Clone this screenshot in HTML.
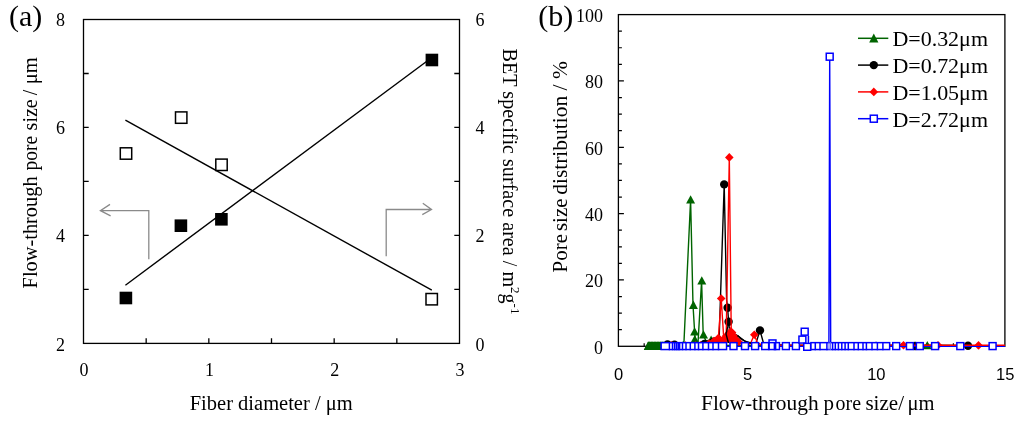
<!DOCTYPE html>
<html><head><meta charset="utf-8"><title>Fiber diameter and pore size distribution</title>
<style>html,body{margin:0;padding:0;background:#fff;width:1024px;height:425px;overflow:hidden}svg{display:block;will-change:transform}</style>
</head><body>
<svg width="1024" height="425" viewBox="0 0 1024 425"><rect x="83.50" y="19.50" width="376.00" height="323.90" fill="none" stroke="#000" stroke-width="1.3"/>
<path d="M83.50 73.48h5.2M459.50 73.48h-5.2M83.50 127.47h5.2M459.50 127.47h-5.2M83.50 181.45h5.2M459.50 181.45h-5.2M83.50 235.43h5.2M459.50 235.43h-5.2M83.50 289.42h5.2M459.50 289.42h-5.2M146.17 343.40v-5.2M208.83 343.40v-5.2M271.50 343.40v-5.2M334.17 343.40v-5.2M396.83 343.40v-5.2" stroke="#000" stroke-width="1.3" fill="none"/>
<path d="M148.8 259.3V210.6H100.6M110 204.4L100.4 210.6L110.6 215.8" stroke="#8a8a8a" stroke-width="1.3" fill="none"/>
<path d="M386.2 256.3V209.5H431.3M422.8 203.2L431.5 209.5L422.3 214.6" stroke="#8a8a8a" stroke-width="1.3" fill="none"/>
<path d="M125.4 285.2L431.9 57.5" stroke="#000" stroke-width="1.4" fill="none"/>
<path d="M125.4 120.2L431.8 290.2" stroke="#000" stroke-width="1.4" fill="none"/>
<rect x="119.60" y="291.70" width="12.60" height="12.60" fill="#000"/>
<rect x="174.60" y="219.40" width="12.60" height="12.60" fill="#000"/>
<rect x="215.10" y="213.00" width="12.60" height="12.60" fill="#000"/>
<rect x="425.60" y="53.70" width="12.60" height="12.60" fill="#000"/>
<rect x="120.30" y="147.80" width="11.40" height="11.40" fill="#fff" stroke="#000" stroke-width="1.5"/>
<rect x="175.50" y="111.90" width="11.40" height="11.40" fill="#fff" stroke="#000" stroke-width="1.5"/>
<rect x="215.80" y="159.10" width="11.40" height="11.40" fill="#fff" stroke="#000" stroke-width="1.5"/>
<rect x="426.00" y="293.50" width="11.40" height="11.40" fill="#fff" stroke="#000" stroke-width="1.5"/>
<g font-family='"Liberation Serif", serif' font-size="18" fill="#000"><text x="65" y="25.70" text-anchor="end">8</text><text x="65" y="134.00" text-anchor="end">6</text><text x="65" y="242.30" text-anchor="end">4</text><text x="65" y="350.60" text-anchor="end">2</text><text x="475.4" y="25.70">6</text><text x="475.4" y="133.97">4</text><text x="475.4" y="242.23">2</text><text x="475.4" y="350.50">0</text><text x="84.10" y="376" text-anchor="middle">0</text><text x="209.43" y="376" text-anchor="middle">1</text><text x="334.77" y="376" text-anchor="middle">2</text><text x="460.10" y="376" text-anchor="middle">3</text></g>
<text x="9" y="25.7" font-family='"Liberation Serif", serif' font-size="30">(a)</text>
<text x="189.7" y="409.6" font-family='"Liberation Serif", serif' font-size="20" textLength="163" lengthAdjust="spacingAndGlyphs">Fiber diameter / μm</text>
<g transform="translate(37.2 288.4) rotate(-90)" font-family='"Liberation Serif", serif' font-size="20"><text x="0" y="0" textLength="112" lengthAdjust="spacingAndGlyphs">Flow-through</text><text x="118" y="0" textLength="34.6" lengthAdjust="spacingAndGlyphs">pore</text><text x="158" y="0">size</text><text x="193.1" y="0">/</text><text x="204.2" y="0" textLength="27" lengthAdjust="spacingAndGlyphs">μm</text></g>
<text transform="translate(502.6 48.6) rotate(90)" font-family='"Liberation Serif", serif' font-size="20"><tspan textLength="238.5" lengthAdjust="spacingAndGlyphs">BET specific surface area / m</tspan><tspan font-size="13" dy="-8">2</tspan><tspan dy="8">g</tspan><tspan font-size="13" dy="-8">-1</tspan></text>
<rect x="618.40" y="14.60" width="386.50" height="331.70" fill="none" stroke="#000" stroke-width="1.3"/>
<path d="M618.40 329.72h3.5M618.40 313.13h3.5M618.40 296.55h3.5M618.40 279.96h5.5M618.40 263.38h3.5M618.40 246.79h3.5M618.40 230.21h3.5M618.40 213.62h5.5M618.40 197.04h3.5M618.40 180.45h3.5M618.40 163.87h3.5M618.40 147.28h5.5M618.40 130.70h3.5M618.40 114.11h3.5M618.40 97.53h3.5M618.40 80.94h5.5M618.40 64.36h3.5M618.40 47.77h3.5M618.40 31.19h3.5M644.17 346.30v-3.0M669.93 346.30v-3.0M695.70 346.30v-3.0M721.47 346.30v-3.0M747.23 346.30v-4.5M773.00 346.30v-3.0M798.77 346.30v-3.0M824.53 346.30v-3.0M850.30 346.30v-3.0M876.07 346.30v-4.5M901.83 346.30v-3.0M927.60 346.30v-3.0M953.37 346.30v-3.0M979.13 346.30v-3.0" stroke="#000" stroke-width="1.2" fill="none"/>
<g font-family='"Liberation Serif", serif' font-size="18" fill="#000"><text x="603.1" y="22.10" text-anchor="end">100</text><text x="603.1" y="88.44" text-anchor="end">80</text><text x="603.1" y="154.78" text-anchor="end">60</text><text x="603.1" y="221.12" text-anchor="end">40</text><text x="603.1" y="287.46" text-anchor="end">20</text><text x="603.1" y="353.80" text-anchor="end">0</text></g>
<g font-family='"Liberation Sans", sans-serif' font-size="16.5" fill="#000"><text x="618.70" y="379.6" text-anchor="middle">0</text><text x="747.53" y="379.6" text-anchor="middle">5</text><text x="876.37" y="379.6" text-anchor="middle">10</text><text x="1005.20" y="379.6" text-anchor="middle">15</text></g>
<text x="538.2" y="25.8" font-family='"Liberation Serif", serif' font-size="30">(b)</text>
<g font-family='"Liberation Serif", serif' font-size="21"><text x="701" y="410.4" textLength="117.6" lengthAdjust="spacingAndGlyphs">Flow-through</text><text x="823.6" y="410.4">p</text><text x="835.6" y="410.4" textLength="25.4" lengthAdjust="spacingAndGlyphs">ore</text><text x="865.4" y="410.4" textLength="38.6" lengthAdjust="spacingAndGlyphs">size/</text><text x="907.6" y="410.4" textLength="27" lengthAdjust="spacingAndGlyphs">μm</text></g>
<g transform="translate(567.3 272.4) rotate(-90)" font-family='"Liberation Serif", serif' font-size="21"><text x="0" y="0">Pore</text><text x="41.3" y="0">size</text><text x="77.6" y="0" textLength="133.6" lengthAdjust="spacingAndGlyphs">distribution / %</text></g>
<polyline points="648.00,346.10 650.00,346.10 652.00,346.10 654.00,346.10 656.00,346.10 658.00,346.10 662.00,346.10 670.00,345.50 678.00,345.50 684.00,341.50 690.60,199.80 693.00,305.00 694.60,331.50 695.20,339.50 698.00,343.00 701.60,281.00 703.20,334.50 706.00,341.00 711.10,340.00 716.00,345.00 728.00,345.50 760.00,345.50 800.00,345.50 850.00,345.50 900.00,345.50 927.30,345.50 960.00,345.50" fill="none" stroke="#006400" stroke-width="1.4" stroke-linejoin="round"/>
<path d="M648.30 341.48L652.80 349.88L643.80 349.88Z" fill="#006400"/><path d="M649.80 341.48L654.30 349.88L645.30 349.88Z" fill="#006400"/><path d="M651.30 341.48L655.80 349.88L646.80 349.88Z" fill="#006400"/><path d="M652.80 341.48L657.30 349.88L648.30 349.88Z" fill="#006400"/><path d="M654.30 341.48L658.80 349.88L649.80 349.88Z" fill="#006400"/><path d="M655.80 341.48L660.30 349.88L651.30 349.88Z" fill="#006400"/><path d="M657.30 341.48L661.80 349.88L652.80 349.88Z" fill="#006400"/><path d="M658.80 341.48L663.30 349.88L654.30 349.88Z" fill="#006400"/><path d="M660.50 341.48L665.00 349.88L656.00 349.88Z" fill="#006400"/><path d="M662.50 341.48L667.00 349.88L658.00 349.88Z" fill="#006400"/><path d="M690.60 195.18L695.10 203.58L686.10 203.58Z" fill="#006400"/><path d="M693.40 300.58L697.90 308.98L688.90 308.98Z" fill="#006400"/><path d="M694.60 327.18L699.10 335.58L690.10 335.58Z" fill="#006400"/><path d="M694.80 334.88L699.30 343.28L690.30 343.28Z" fill="#006400"/><path d="M701.80 276.18L706.30 284.58L697.30 284.58Z" fill="#006400"/><path d="M703.50 330.18L708.00 338.58L699.00 338.58Z" fill="#006400"/><path d="M711.10 335.58L715.60 343.98L706.60 343.98Z" fill="#006400"/><path d="M927.30 340.88L931.80 349.28L922.80 349.28Z" fill="#006400"/>
<path d="M643.9 349.9L647.9 341.7H664V349.9Z" fill="#006400"/>
<polyline points="663.00,345.00 667.50,344.40 674.50,344.60 680.00,345.20 688.00,345.50 696.00,345.30 700.00,344.80 704.50,343.90 708.00,341.50 712.00,338.50 716.00,338.00 719.10,340.00 724.20,184.40 726.60,300.00 727.60,307.80 728.60,321.80 729.50,329.50 733.00,333.00 737.50,335.50 746.00,342.00 752.00,343.30 756.00,343.00 760.00,330.40 763.50,343.20 770.00,344.50 790.00,345.50 830.00,345.50 870.00,345.50 915.00,345.50 940.00,345.50 968.00,345.80 995.00,345.80" fill="none" stroke="#000" stroke-width="1.4" stroke-linejoin="round"/>
<circle cx="667.50" cy="344.40" r="4.2" fill="#000"/><circle cx="674.50" cy="344.60" r="4.2" fill="#000"/><circle cx="704.50" cy="343.90" r="4.2" fill="#000"/><circle cx="724.20" cy="184.40" r="4.2" fill="#000"/><circle cx="727.60" cy="307.80" r="4.2" fill="#000"/><circle cx="728.60" cy="321.80" r="4.2" fill="#000"/><circle cx="760.00" cy="330.40" r="4.2" fill="#000"/><circle cx="915.00" cy="346.00" r="4.2" fill="#000"/><circle cx="968.00" cy="345.80" r="4.2" fill="#000"/>
<polyline points="664.00,345.60 671.50,345.40 678.00,345.60 685.50,345.60 690.00,345.80 695.50,345.60 700.50,345.40 705.00,345.00 709.00,343.50 714.00,341.00 718.40,338.00 721.20,298.50 723.80,339.00 726.20,336.00 729.30,157.40 731.20,329.00 733.00,335.00 737.00,339.00 741.00,343.00 746.00,344.80 750.50,343.50 754.30,334.80 757.50,343.00 762.00,345.00 770.00,345.20 800.00,345.10 840.00,345.10 880.00,345.10 903.50,345.20 938.00,345.20 978.50,345.20 1004.90,345.20" fill="none" stroke="#f00" stroke-width="1.4" stroke-linejoin="round"/>
<path d="M730.80 326.90L736.40 332.50L730.80 338.10L725.20 332.50Z" fill="#f00"/><path d="M733.50 331.50L738.50 336.50L733.50 341.50L728.50 336.50Z" fill="#f00"/><path d="M728.50 333.40L733.10 338.00L728.50 342.60L723.90 338.00Z" fill="#f00"/><path d="M736.00 335.00L740.50 339.50L736.00 344.00L731.50 339.50Z" fill="#f00"/><path d="M739.00 338.00L743.00 342.00L739.00 346.00L735.00 342.00Z" fill="#f00"/><path d="M724.50 337.20L728.80 341.50L724.50 345.80L720.20 341.50Z" fill="#f00"/><path d="M720.00 337.70L724.30 342.00L720.00 346.30L715.70 342.00Z" fill="#f00"/><path d="M716.00 338.20L720.30 342.50L716.00 346.80L711.70 342.50Z" fill="#f00"/><path d="M712.80 338.70L717.10 343.00L712.80 347.30L708.50 343.00Z" fill="#f00"/><path d="M732.00 337.00L736.50 341.50L732.00 346.00L727.50 341.50Z" fill="#f00"/>
<path d="M671.50 341.10L675.80 345.40L671.50 349.70L667.20 345.40Z" fill="#f00"/><path d="M685.50 341.30L689.80 345.60L685.50 349.90L681.20 345.60Z" fill="#f00"/><path d="M695.50 341.30L699.80 345.60L695.50 349.90L691.20 345.60Z" fill="#f00"/><path d="M700.50 341.10L704.80 345.40L700.50 349.70L696.20 345.40Z" fill="#f00"/><path d="M709.00 339.20L713.30 343.50L709.00 347.80L704.70 343.50Z" fill="#f00"/><path d="M714.00 336.70L718.30 341.00L714.00 345.30L709.70 341.00Z" fill="#f00"/><path d="M718.40 333.70L722.70 338.00L718.40 342.30L714.10 338.00Z" fill="#f00"/><path d="M721.20 294.20L725.50 298.50L721.20 302.80L716.90 298.50Z" fill="#f00"/><path d="M723.80 334.70L728.10 339.00L723.80 343.30L719.50 339.00Z" fill="#f00"/><path d="M726.20 331.70L730.50 336.00L726.20 340.30L721.90 336.00Z" fill="#f00"/><path d="M729.30 153.10L733.60 157.40L729.30 161.70L725.00 157.40Z" fill="#f00"/><path d="M754.30 330.50L758.60 334.80L754.30 339.10L750.00 334.80Z" fill="#f00"/><path d="M903.50 341.00L907.80 345.30L903.50 349.60L899.20 345.30Z" fill="#f00"/><path d="M938.00 341.00L942.30 345.30L938.00 349.60L933.70 345.30Z" fill="#f00"/><path d="M978.50 341.10L982.80 345.40L978.50 349.70L974.20 345.40Z" fill="#f00"/>
<path d="M729 322L726 334L728.5 343" fill="none" stroke="#000" stroke-width="1.4"/>
<path d="M737.5 335.5C741 339.5 746 342.4 752 343.3L757 343" fill="none" stroke="#000" stroke-width="1.4"/>
<path d="M828.9 343L829.7 56.7L830.7 343" fill="none" stroke="#00f" stroke-width="1.4" stroke-linejoin="round"/>
<path d="M660.5 346.5H1004.9" stroke="#00f" stroke-width="1.1"/>
<rect x="661.15" y="342.65" width="65.40" height="6.90" fill="#fff" stroke="#00f" stroke-width="1.5"/><path d="M669.40 341.90V350.30M672.50 341.90V350.30M674.60 341.90V350.30M676.50 341.90V350.30M678.30 341.90V350.30M679.60 341.90V350.30M682.50 341.90V350.30M686.00 341.90V350.30M690.30 341.90V350.30M694.90 341.90V350.30M698.50 341.90V350.30M702.90 341.90V350.30M708.50 341.90V350.30M713.00 341.90V350.30M718.50 341.90V350.30" stroke="#00f" stroke-width="1.5"/>
<rect x="730.05" y="342.65" width="6.90" height="6.90" fill="#fff" stroke="#00f" stroke-width="1.5"/>
<rect x="741.55" y="342.65" width="6.90" height="6.90" fill="#fff" stroke="#00f" stroke-width="1.5"/>
<rect x="751.65" y="342.65" width="6.90" height="6.90" fill="#fff" stroke="#00f" stroke-width="1.5"/>
<rect x="761.75" y="342.65" width="6.90" height="6.90" fill="#fff" stroke="#00f" stroke-width="1.5"/>
<rect x="782.45" y="342.65" width="6.90" height="6.90" fill="#fff" stroke="#00f" stroke-width="1.5"/>
<rect x="792.45" y="342.65" width="6.90" height="6.90" fill="#fff" stroke="#00f" stroke-width="1.5"/>
<rect x="769.05" y="339.95" width="6.90" height="6.90" fill="#fff" stroke="#00f" stroke-width="1.5"/>
<rect x="769.15" y="342.65" width="10.30" height="6.90" fill="#fff" stroke="#00f" stroke-width="1.5"/><path d="M774.40 341.90V350.30M775.60 341.90V350.30" stroke="#00f" stroke-width="1.5"/>
<path d="M808.4 335.8V343.4" stroke="#00f" stroke-width="1.5"/>
<rect x="798.95" y="336.15" width="6.90" height="6.90" fill="#fff" stroke="#00f" stroke-width="1.5"/>
<rect x="801.25" y="328.25" width="6.90" height="6.90" fill="#fff" stroke="#00f" stroke-width="1.5"/>
<rect x="803.75" y="343.35" width="6.90" height="6.90" fill="#fff" stroke="#00f" stroke-width="1.5"/>
<rect x="810.95" y="342.65" width="78.70" height="6.90" fill="#fff" stroke="#00f" stroke-width="1.5"/><path d="M815.30 341.90V350.30M820.00 341.90V350.30M826.90 341.90V350.30M832.60 341.90V350.30M835.30 341.90V350.30M838.40 341.90V350.30M841.80 341.90V350.30M845.10 341.90V350.30M848.30 341.90V350.30M854.00 341.90V350.30M858.30 341.90V350.30M863.00 341.90V350.30M866.40 341.90V350.30M872.00 341.90V350.30M877.40 341.90V350.30M882.90 341.90V350.30" stroke="#00f" stroke-width="1.5"/>
<path d="M829 342V350M830.6 342V350" stroke="#5a5aff" stroke-width="1"/>
<rect x="892.75" y="342.65" width="6.90" height="6.90" fill="#fff" stroke="#00f" stroke-width="1.5"/>
<rect x="906.45" y="342.65" width="6.90" height="6.90" fill="#fff" stroke="#00f" stroke-width="1.5"/>
<rect x="916.35" y="342.65" width="6.90" height="6.90" fill="#fff" stroke="#00f" stroke-width="1.5"/>
<rect x="931.65" y="342.65" width="6.90" height="6.90" fill="#fff" stroke="#00f" stroke-width="1.5"/>
<rect x="956.85" y="342.65" width="6.90" height="6.90" fill="#fff" stroke="#00f" stroke-width="1.5"/>
<rect x="989.15" y="342.65" width="6.90" height="6.90" fill="#fff" stroke="#00f" stroke-width="1.5"/>
<rect x="826.25" y="53.25" width="6.90" height="6.90" fill="#fff" stroke="#00f" stroke-width="1.5"/>
<path d="M858 38.30H888.3" stroke="#006400" stroke-width="1.5"/>
<path d="M873.80 33.55L878.40 42.55L869.20 42.55Z" fill="#006400"/>
<text x="892.4" y="46.20" font-family='"Liberation Serif", serif' font-size="21" textLength="95.6" lengthAdjust="spacingAndGlyphs">D=0.32μm</text>
<path d="M858 65.10H888.3" stroke="#000" stroke-width="1.5"/>
<circle cx="873.80" cy="65.10" r="4.2" fill="#000"/>
<text x="892.4" y="73.00" font-family='"Liberation Serif", serif' font-size="21" textLength="95.6" lengthAdjust="spacingAndGlyphs">D=0.72μm</text>
<path d="M858 91.90H888.3" stroke="#f00" stroke-width="1.5"/>
<path d="M873.80 87.60L878.10 91.90L873.80 96.20L869.50 91.90Z" fill="#f00"/>
<text x="892.4" y="99.80" font-family='"Liberation Serif", serif' font-size="21" textLength="95.6" lengthAdjust="spacingAndGlyphs">D=1.05μm</text>
<path d="M858 118.70H888.3" stroke="#00f" stroke-width="1.5"/>
<rect x="870.30" y="115.20" width="7.00" height="7.00" fill="#fff" stroke="#00f" stroke-width="1.5"/>
<text x="892.4" y="126.60" font-family='"Liberation Serif", serif' font-size="21" textLength="95.6" lengthAdjust="spacingAndGlyphs">D=2.72μm</text></svg>
</body></html>
